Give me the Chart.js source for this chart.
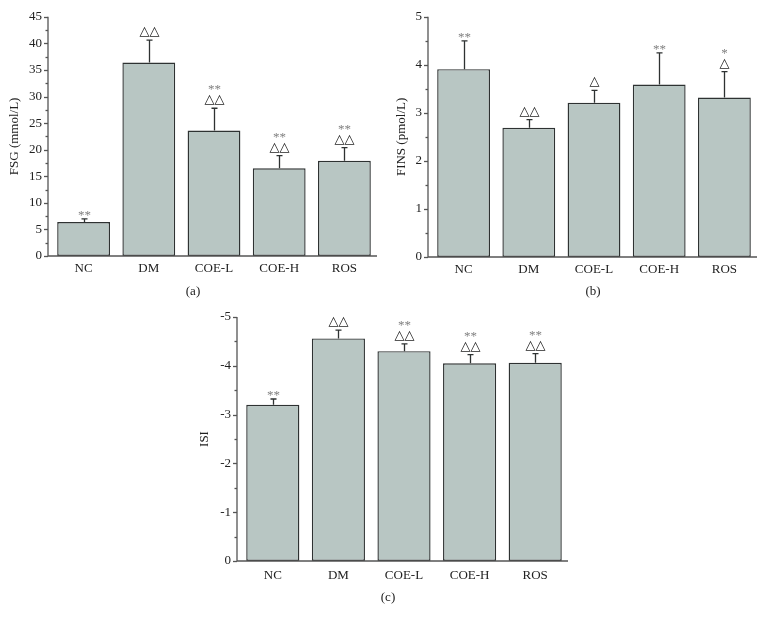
<!DOCTYPE html>
<html>
<head>
<meta charset="utf-8">
<script src="https://cdn.jsdelivr.net/npm/chart.js@4.4.0/dist/chart.umd.min.js"></script>
<style>
  body { margin: 0; background: #fff; width: 765px; height: 624px; position: relative; overflow: hidden; }
  canvas { position: absolute; }
  .cap { position: absolute; font: 13px "Liberation Serif", serif; color: #222; transform: translate(-50%, -50%); }
</style>
</head>
<body>
<canvas id="chartA" width="385" height="290" style="left:0;top:0"></canvas>
<canvas id="chartB" width="385" height="290" style="left:380px;top:0"></canvas>
<canvas id="chartC" width="385" height="290" style="left:190px;top:300px"></canvas>
<div class="cap" style="left:193px;top:291px">(a)</div>
<div class="cap" style="left:593px;top:291px">(b)</div>
<div class="cap" style="left:388px;top:597px">(c)</div>
<script>
// groups
const groups = ['NC', 'DM', 'COE-L', 'COE-H', 'ROS'];

// (a) fasting serum glucose
const fsg = [6.4, 36.4, 23.6, 16.5, 17.9];
const fsgSd = [0.6, 4.2, 4.2, 2.4, 2.5];
const fsgStars = ['**', '', '**', '**', '**'];
const fsgTris = ['', '△△', '△△', '△△', '△△'];

// (b) fasting insulin
const fins = [3.91, 2.69, 3.21, 3.59, 3.32];
const finsSd = [0.59, 0.17, 0.26, 0.66, 0.54];
const finsStars = ['**', '', '', '**', '*'];
const finsTris = ['', '△△', '△', '', '△'];

// (c) insulin sensitivity index
const isi = [-3.2, -4.56, -4.3, -4.05, -4.06];
const isiSd = [0.12, 0.17, 0.15, 0.18, 0.19];
const isiStars = ['**', '', '**', '**', '**'];
const isiTris = ['', '△△', '△△', '△△', '△△'];

const barFill = '#b8c6c3';
const barEdge = '#2e3232';
const axisCol = '#555';
const serif = '"Liberation Serif", "Times New Roman", serif';

// axes lines, major/minor ticks, error bars and significance marks
const decor = {
    id: 'decor',
    afterDatasetsDraw(chart, args, opts) {
        const ctx = chart.ctx;
        const area = chart.chartArea;
        const y = chart.scales.y;
        const x = chart.scales.x;
        const ax = area.left - 3;
        ctx.save();
        ctx.strokeStyle = axisCol;
        ctx.lineWidth = 1.3;
        ctx.beginPath();
        ctx.moveTo(ax, y.getPixelForValue(opts.top));
        ctx.lineTo(ax, y.getPixelForValue(0));
        ctx.lineTo(area.right, y.getPixelForValue(0));
        ctx.stroke();
        // ticks
        const step = opts.step;
        const lo = Math.min(0, opts.top), hi = Math.max(0, opts.top);
        for (let v = lo; v <= hi + 1e-9; v += step / 2) {
            const major = Math.abs(v / step - Math.round(v / step)) < 1e-6;
            const py = Math.round(y.getPixelForValue(v)) + 0.5;
            ctx.beginPath();
            ctx.moveTo(ax - (major ? 4 : 2.5), py);
            ctx.lineTo(ax, py);
            ctx.stroke();
        }
        // error bars
        const vals = opts.values, sds = opts.sd;
        ctx.strokeStyle = barEdge;
        ctx.lineWidth = 1.3;
        vals.forEach((v, i) => {
            const cx = Math.round(x.getPixelForValue(i)) + 0.5;
            const top = v + Math.sign(v) * sds[i];
            const py0 = y.getPixelForValue(v);
            const py1 = y.getPixelForValue(top);
            ctx.beginPath();
            ctx.moveTo(cx, py0);
            ctx.lineTo(cx, py1);
            ctx.moveTo(cx - 3, py1);
            ctx.lineTo(cx + 3, py1);
            ctx.stroke();
            // marks
            ctx.textAlign = 'center';
            ctx.textBaseline = 'alphabetic';
            let starBase = py1;
            if (opts.tris[i]) {
                ctx.fillStyle = '#222';
                ctx.font = '13px "DejaVu Sans"';
                ctx.fillText(opts.tris[i], cx, py1 - 5);
                starBase = py1 - 15;
            }
            if (opts.stars[i]) {
                ctx.fillStyle = '#808080';
                ctx.font = '13px ' + serif;
                ctx.fillText(opts.stars[i], cx, starBase);
            }
        });
        ctx.restore();
    }
};

function makeChart(id, values, sd, stars, tris, top, step, title, pad, titlePad, reverse) {
    return new Chart(document.getElementById(id), {
        type: 'bar',
        data: {
            labels: groups,
            datasets: [{
                data: values,
                backgroundColor: barFill,
                borderColor: barEdge,
                borderWidth: 1.4,
                borderSkipped: false,
                barPercentage: 0.81,
                categoryPercentage: 1
            }]
        },
        options: {
            responsive: false,
            animation: false,
            layout: { padding: pad },
            plugins: {
                legend: { display: false },
                tooltip: { enabled: false },
                decor: { values: values, sd: sd, stars: stars, tris: tris, top: top, step: step }
            },
            scales: {
                x: {
                    grid: { display: false, drawTicks: false },
                    border: { display: false },
                    ticks: { color: '#222', font: { family: serif, size: 13 }, padding: pad.xp, maxRotation: 0 },
                    afterFit: s => { s.height = pad.xh; }
                },
                y: {
                    min: Math.min(0, top),
                    max: Math.max(0, top),
                    reverse: reverse,
                    grid: { display: false, drawTicks: false },
                    border: { display: false },
                    ticks: { stepSize: step, color: '#222', font: { family: serif, size: 13 }, padding: 9 },
                    title: { display: true, text: title, color: '#222', font: { family: serif, size: 13 }, padding: { top: titlePad, bottom: 0 } },
                    afterFit: s => { s.width = pad.yw; }
                }
            }
        },
        plugins: [decor]
    });
}

makeChart('chartA', fsg, fsgSd, fsgStars, fsgTris, 45, 5, 'FSG (mmol/L)',
    { top: 14, right: 8, left: 0, bottom: 0, xh: 34, yw: 51, xp: 5 }, 7, false);
makeChart('chartB', fins, finsSd, finsStars, finsTris, 5, 1, 'FINS (pmol/L)',
    { top: 14, right: 8, left: 0, bottom: 0, xh: 33, yw: 51, xp: 5 }, 14, false);
makeChart('chartC', isi, isiSd, isiStars, isiTris, -5, 1, 'ISI',
    { top: 17, right: 7, left: 0, bottom: 0, xh: 29, yw: 50, xp: 7 }, 7, true);
</script>
</body>
</html>
